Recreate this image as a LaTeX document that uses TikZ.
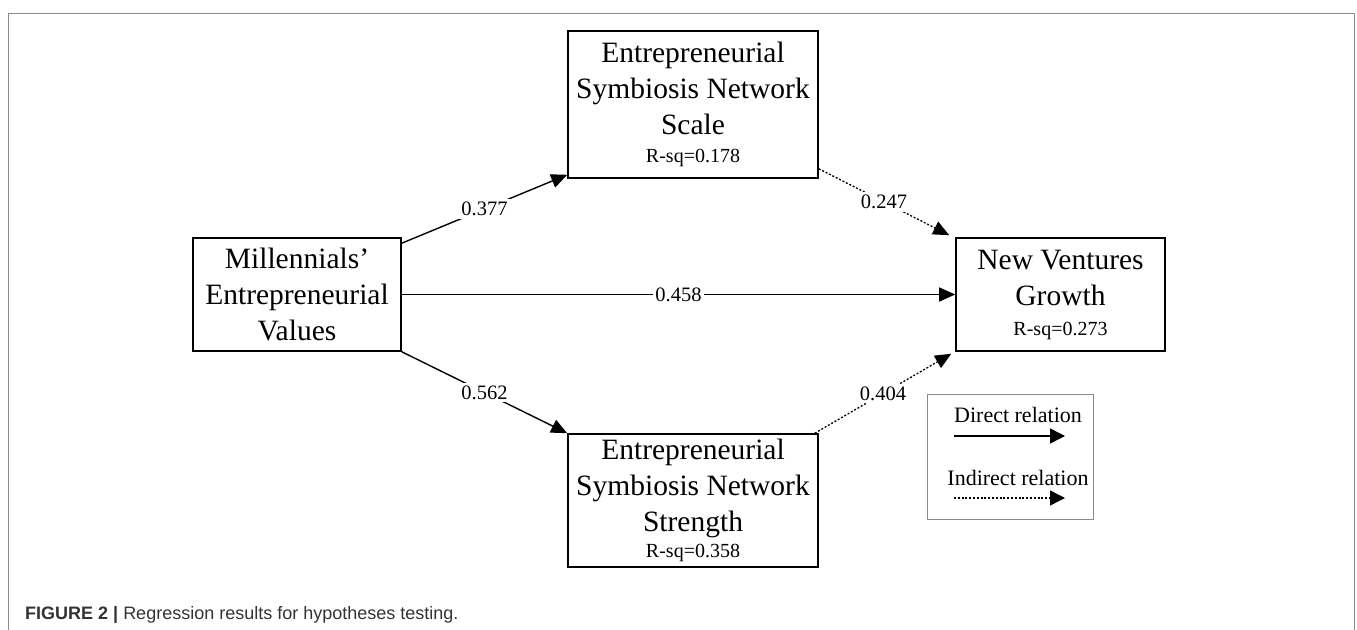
\documentclass[tikz,border=0pt]{standalone}
\usepackage{fontspec}
\setmainfont{Liberation Serif}
\newfontfamily\capfont{Liberation Sans}
\usetikzlibrary{arrows.meta}
\definecolor{framegray}{HTML}{8A8A8A}
\definecolor{capgray}{HTML}{333333}
\tikzset{
  varbox/.style={draw, line width=1.6pt, align=center, inner sep=0pt,
    font=\fontsize{29.5}{36}\selectfont},
  lbl/.style={fill=white, inner xsep=2pt, inner ysep=3pt, font=\fontsize{20.5}{24}\selectfont},
  direct/.style={line width=1.4pt, -{Triangle[length=16pt,width=14pt]}},
  indirect/.style={line width=1.3pt, dash pattern=on 2pt off 1.8pt, -{Triangle[length=16pt,width=14pt]}},
  legtext/.style={font=\fontsize{22}{26}\selectfont, inner sep=0pt},
}
\newcommand{\rsqtext}[1]{{\fontsize{20}{23}\selectfont R-sq=#1}}
\begin{document}
\begin{tikzpicture}[x=1pt,y=-1pt]
\useasboundingbox (0,0) rectangle (1357,629);
% frame
\draw[framegray, line width=1pt] (8,640) -- (8,13) -- (1354,13) -- (1354,640);

\node[varbox, minimum width=250pt, minimum height=147pt] (top) at (693,104.5)
  {Entrepreneurial\\Symbiosis Network\\Scale\\[-8pt]\rsqtext{0.178}};
\node[varbox, minimum width=208pt, minimum height=113pt] (m) at (297,294.5)
  {Millennials’\\Entrepreneurial\\Values};
\node[varbox, minimum width=209pt, minimum height=113pt] (nvg) at (1060.5,294.5)
  {New Ventures\\Growth\\[-6pt]\rsqtext{0.273}};
\node[varbox, minimum width=250pt, minimum height=133pt] (bot) at (693,500.5)
  {Entrepreneurial\\Symbiosis Network\\Strength\\[-10pt]\rsqtext{0.358}};

\draw[direct] ([yshift=-6pt]m.north east) -- ([yshift=4pt]top.south west)
  node[lbl, pos=0.5] (l1) {0.377};
\draw[direct] (m.east) -- (nvg.west) node[lbl, pos=0.5, inner ysep=1pt] (l2) {0.458};
\draw[direct] (m.south east) -- (bot.north west) node[lbl, pos=0.5] (l3) {0.562};
\draw[indirect] ([yshift=10pt]top.south east) -- ([xshift=-6pt,yshift=2pt]nvg.north west)
  node[lbl, pos=0.5] (l4) {0.247};
\draw[indirect] ([xshift=-4pt]bot.north east) -- ([xshift=-4pt,yshift=-2pt]nvg.south west)
  node[lbl, pos=0.5] (l5) {0.404};

% legend
\node[draw=framegray, line width=1pt, minimum width=166pt, minimum height=125pt, inner sep=0pt] (leg) at (1010,456.5) {};
\node[legtext] (ld) at (1018,415) {Direct relation};
\node[legtext] (li) at (1018,478) {Indirect relation};
\coordinate (d1) at (954,436);
\coordinate (d2) at (1065,436);
\coordinate (i1) at (954,498);
\coordinate (i2) at (1065,498);
\draw[line width=1.4pt, -{Triangle[length=15pt,width=15pt]}] (d1) -- (d2);
\draw[line width=1.3pt, dash pattern=on 2pt off 1.8pt, -{Triangle[length=15pt,width=15pt]}] (i1) -- (i2);

% caption
\node[anchor=west, inner sep=0pt, text=capgray, font=\capfont\fontsize{18}{22}\selectfont] (cap) at (25,615)
  {\textbf{FIGURE 2 |} Regression results for hypotheses testing.};
\end{tikzpicture}
\end{document}
